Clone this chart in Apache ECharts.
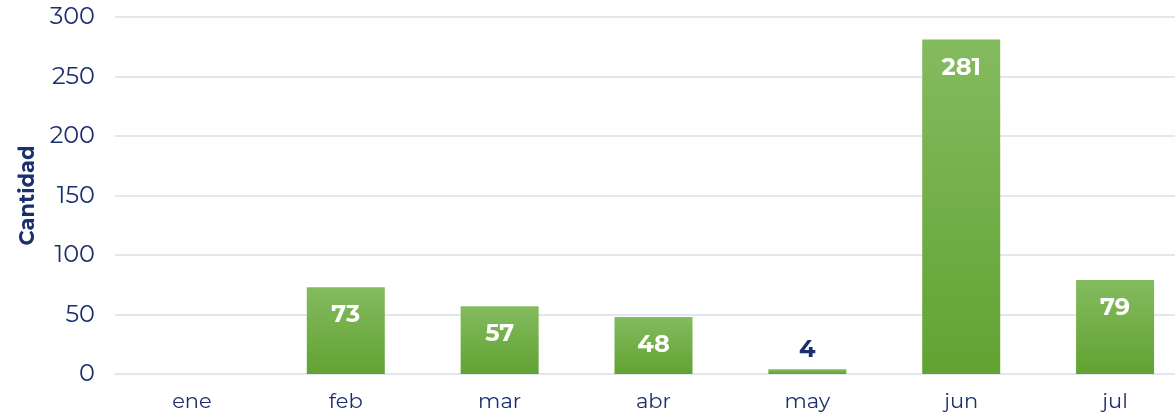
<!DOCTYPE html>
<html>
<head>
<meta charset="utf-8">
<script src="https://cdn.jsdelivr.net/npm/echarts@6/dist/echarts.min.js"></script>
<style>
  html, body { margin: 0; padding: 0; background: #fff; }
  #chart { width: 1175px; height: 414px; }
</style>
</head>
<body>
<div id="chart"></div>
<script>
const months = ["ene", "feb", "mar", "abr", "may", "jun", "jul"];
const cantidad = [0, 73, 57, 48, 4, 281, 79];
const yTicks = [0, 300, 50];

const navy = "#1b2f6e";
const chart = echarts.init(document.getElementById("chart"));

const option = {
  animation: false,
  textStyle: { fontFamily: "Montserrat, 'Open Sans', sans-serif" },
  grid: { left: 115, top: 17, bottom: 40, width: 1077, outerBoundsMode: "none", containLabel: false },
  xAxis: {
    type: "category",
    data: months,
    axisLine: { show: true, lineStyle: { color: "#e3e6ee", width: 2 } },
    axisTick: { show: false },
    axisLabel: { color: navy, fontSize: 21, margin: 17 }
  },
  yAxis: {
    type: "value",
    min: yTicks[0],
    max: yTicks[1],
    interval: yTicks[2],
    name: "Cantidad",
    nameLocation: "middle",
    nameGap: 77,
    nameTextStyle: { color: navy, fontSize: 21, fontWeight: "bold" },
    axisLabel: { color: navy, fontSize: 24, margin: 20 },
    splitLine: { lineStyle: { color: "#e3e6ee", width: 2 } }
  },
  series: [
    {
      type: "bar",
      barWidth: 78,
      data: cantidad.map(v => {
        const item = { value: v };
        if (v === 0) item.label = { show: false };
        else if (v < 20) item.label = { position: "top", color: navy, distance: 7 };
        return item;
      }),
      itemStyle: {
        color: new echarts.graphic.LinearGradient(0, 0, 0, 1, [
          { offset: 0, color: "#84bb5f" },
          { offset: 1, color: "#62a232" }
        ])
      },
      label: {
        show: true,
        position: "insideTop",
        distance: 16,
        color: "#ffffff",
        fontSize: 24,
        fontWeight: "bold"
      }
    }
  ]
};

chart.setOption(option);
</script>
</body>
</html>
